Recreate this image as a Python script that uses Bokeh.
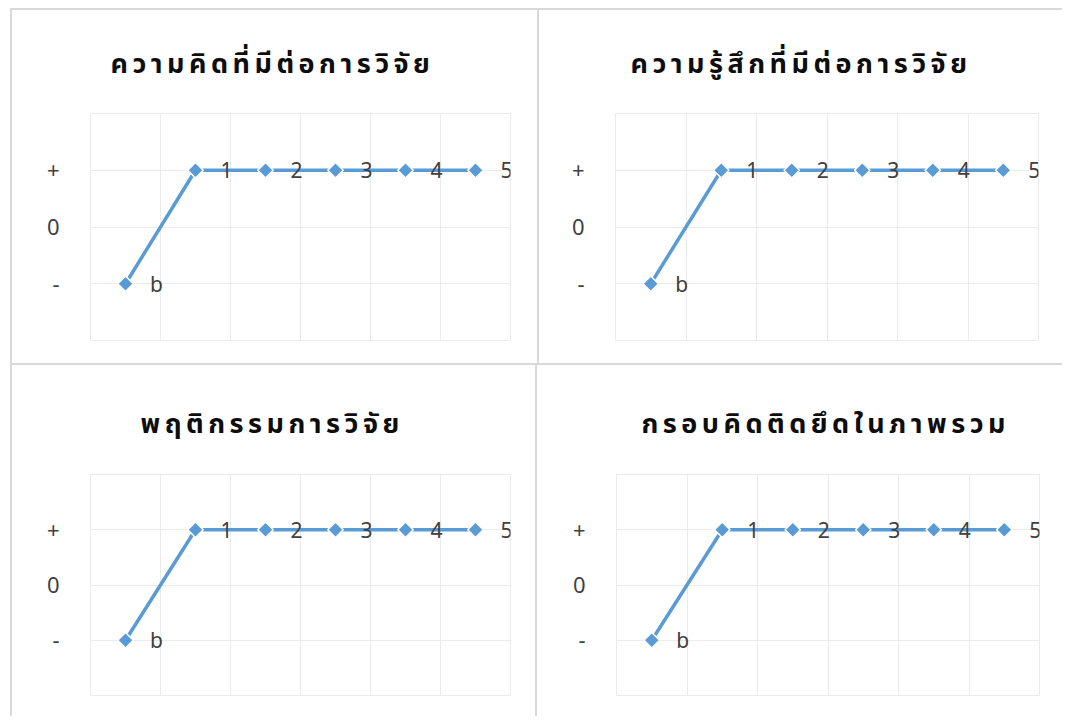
from bokeh.plotting import figure
from bokeh.layouts import column, row
from bokeh.models import ColumnDataSource, FixedTicker, Range1d, LabelSet
from bokeh.core.properties import value
from bokeh.embed import file_html
from bokeh.resources import INLINE
import numpy as np

# Data: four panels, each a stage sequence (b = baseline, then 1..5)
stages = ["b", "1", "2", "3", "4", "5"]
titles = [
    "ความคิดที่มีต่อการวิจัย",
    "ความรู้สึกที่มีต่อการวิจัย",
    "พฤติกรรมการวิจัย",
    "กรอบคิดติดยึดในภาพรวม",
]
thinking = [-1, 1, 1, 1, 1, 1]
feeling = [-1, 1, 1, 1, 1, 1]
behaviour = [-1, 1, 1, 1, 1, 1]
overall = [-1, 1, 1, 1, 1, 1]
level_ticks = [-1, 0, 1]
level_labels = ["-", "0", "+"]

BLUE = "#5b9bd5"
GRID = "#ebebeb"
PANEL_LINE = "#d9d9d9"
TEXT = "#404040"
THAI_FONT = "'Noto Sans Thai', 'Noto Sans', sans-serif"
LABEL_FONT = "Noto Sans"
TRACKING = 4.5  # px of letter spacing, inherited by every text in a panel


def make_panel(title, values, width, height, left, right, top, bottom,
               title_offset, title_standoff):
    p = figure(
        width=width, height=height,
        x_range=Range1d(0, len(stages)), y_range=Range1d(-2, 2),
        output_backend="svg", toolbar_location=None,
        min_border_left=left, min_border_right=right,
        min_border_top=top, min_border_bottom=bottom,
        background_fill_color="white", border_fill_color="white",
        outline_line_color=GRID,
        title=title,
    )
    p.styles = {
        "border-left": f"2px solid {PANEL_LINE}",
        "border-top": f"2px solid {PANEL_LINE}",
        "letter-spacing": f"{TRACKING}px",
    }
    p.title.text_font = THAI_FONT
    p.title.text_font_size = "27px"
    p.title.text_font_style = "bold"
    p.title.text_color = "#0d0d0d"
    p.title.align = "left"
    p.title.vertical_align = "middle"
    p.title.offset = title_offset
    p.title.standoff = title_standoff

    p.xaxis.visible = False
    p.xgrid.ticker = FixedTicker(ticks=list(range(len(stages) + 1)))
    p.ygrid.ticker = FixedTicker(ticks=[-2, -1, 0, 1, 2])
    p.grid.grid_line_color = GRID
    p.grid.grid_line_width = 1

    ax = p.yaxis[0]
    ax.ticker = FixedTicker(ticks=level_ticks)
    ax.major_label_overrides = {t: s for t, s in zip(level_ticks, level_labels)}
    ax.axis_line_color = None
    ax.major_tick_line_color = None
    ax.minor_tick_line_color = None
    ax.major_label_standoff = 25
    ax.major_label_text_font = LABEL_FONT
    ax.major_label_text_font_size = "22px"
    ax.major_label_text_color = TEXT

    xs = np.arange(len(stages)) + 0.5
    src = ColumnDataSource(dict(x=xs, y=values, label=stages))
    p.line("x", "y", source=src, line_color=BLUE, line_width=3.5)
    p.scatter("x", "y", source=src, marker="square", size=11, angle=np.pi / 4,
              fill_color=BLUE, line_color="white", line_width=1.5)
    p.add_layout(LabelSet(x="x", y="y", text="label", source=src,
                          x_offset=31, y_offset=0,
                          text_align="center", text_baseline="middle",
                          text_font=value(LABEL_FONT), text_font_size=value("21px"),
                          text_color=TEXT))
    return p


p1 = make_panel(titles[0], thinking, 527, 355, 78, 29, 103, 25, 20, 56)
p2 = make_panel(titles[1], feeling, 525, 355, 76, 26, 103, 25, 15, 56)
p3 = make_panel(titles[2], behaviour, 525, 353, 78, 27, 109, 23, 50, 58)
p4 = make_panel(titles[3], overall, 527, 353, 79, 25, 109, 23, 25, 58)

layout = column(row(p1, p2), row(p3, p4))
layout.styles = {"margin-left": "10px", "margin-top": "8px"}

open("out.html", "w").write(file_html(layout, INLINE))
